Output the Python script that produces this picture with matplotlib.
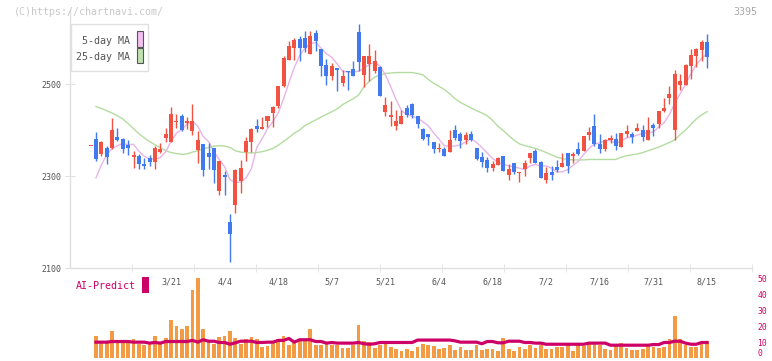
import numpy as np
import matplotlib
matplotlib.use('Agg')
import matplotlib.pyplot as plt
from matplotlib.patches import Rectangle

plt.rcParams['font.family'] = ['DejaVu Sans Mono']

#Daily prices, index 0 = first candle
open_ = [2365, 2380, 2348, 2361, 2361, 2385, 2380, 2367, 2342, 2343,
         2326, 2339, 2330, 2352, 2383, 2374, 2417, 2430, 2415, 2398,
         2357, 2370, 2350, 2361, 2268, 2302, 2200, 2237, 2289, 2352,
         2374, 2409, 2402, 2420, 2437, 2452, 2496, 2552, 2578, 2598,
         2600, 2565, 2611, 2576, 2541, 2517, 2535, 2502, 2528, 2533,
         2613, 2520, 2543, 2528, 2537, 2439, 2428, 2409, 2413, 2448,
         2457, 2430, 2402, 2391, 2374, 2359, 2359, 2352, 2400, 2391,
         2378, 2391, 2361, 2341, 2335, 2317, 2324, 2343, 2302, 2328,
         2307, 2315, 2339, 2354, 2330, 2291, 2309, 2320, 2320, 2350,
         2343, 2359, 2354, 2389, 2409, 2370, 2359, 2378, 2380, 2363,
         2391, 2391, 2398, 2400, 2378, 2411, 2413, 2441, 2470, 2400,
         2498, 2498, 2539, 2561, 2574, 2591]
high = [2365, 2396, 2376, 2365, 2426, 2404, 2383, 2378, 2354, 2348,
        2339, 2346, 2365, 2372, 2404, 2450, 2435, 2435, 2428, 2457,
        2398, 2370, 2372, 2361, 2333, 2311, 2217, 2315, 2335, 2385,
        2404, 2424, 2428, 2430, 2452, 2496, 2561, 2593, 2600, 2604,
        2615, 2615, 2617, 2576, 2554, 2546, 2535, 2530, 2528, 2550,
        2630, 2561, 2587, 2574, 2539, 2472, 2463, 2443, 2443, 2454,
        2459, 2430, 2404, 2391, 2374, 2372, 2363, 2400, 2411, 2396,
        2396, 2398, 2361, 2352, 2341, 2333, 2341, 2343, 2326, 2328,
        2309, 2335, 2350, 2359, 2333, 2320, 2322, 2335, 2350, 2350,
        2352, 2374, 2387, 2407, 2435, 2391, 2380, 2389, 2393, 2393,
        2411, 2396, 2415, 2411, 2428, 2415, 2441, 2470, 2496, 2530,
        2522, 2543, 2576, 2578, 2596, 2609]
low = [2365, 2333, 2344, 2327, 2359, 2376, 2350, 2346, 2317, 2315,
       2315, 2322, 2315, 2350, 2374, 2374, 2404, 2398, 2402, 2389,
       2328, 2300, 2315, 2285, 2259, 2259, 2113, 2220, 2263, 2333,
       2352, 2396, 2402, 2407, 2407, 2448, 2494, 2552, 2552, 2550,
       2570, 2565, 2572, 2517, 2498, 2509, 2485, 2496, 2487, 2517,
       2528, 2494, 2507, 2524, 2474, 2430, 2409, 2400, 2413, 2428,
       2426, 2404, 2378, 2367, 2350, 2352, 2343, 2352, 2378, 2361,
       2370, 2376, 2335, 2320, 2309, 2311, 2324, 2311, 2291, 2304,
       2287, 2300, 2328, 2328, 2296, 2285, 2291, 2309, 2320, 2307,
       2328, 2346, 2354, 2378, 2365, 2350, 2354, 2372, 2357, 2363,
       2385, 2372, 2398, 2376, 2378, 2387, 2404, 2439, 2457, 2378,
       2487, 2498, 2511, 2537, 2550, 2535]
close = [2365, 2338, 2374, 2342, 2400, 2378, 2359, 2362, 2346, 2326,
         2322, 2330, 2361, 2359, 2391, 2435, 2420, 2400, 2420, 2420,
         2378, 2313, 2342, 2313, 2333, 2298, 2174, 2313, 2317, 2376,
         2402, 2402, 2407, 2430, 2450, 2496, 2557, 2583, 2596, 2578,
         2578, 2604, 2593, 2539, 2517, 2539, 2530, 2517, 2526, 2517,
         2548, 2561, 2561, 2550, 2474, 2454, 2433, 2420, 2430, 2433,
         2433, 2413, 2380, 2385, 2359, 2361, 2343, 2378, 2383, 2376,
         2389, 2378, 2337, 2330, 2317, 2326, 2339, 2311, 2315, 2309,
         2309, 2328, 2350, 2328, 2296, 2307, 2302, 2313, 2328, 2322,
         2348, 2348, 2387, 2396, 2370, 2359, 2378, 2383, 2365, 2393,
         2398, 2385, 2404, 2385, 2400, 2404, 2441, 2448, 2478, 2522,
         2507, 2541, 2563, 2576, 2591, 2559]

#Moving averages as drawn on the chart
ma5 = [np.nan, 2296, 2324, 2346, 2360, 2366, 2371, 2368, 2369, 2354,
       2343, 2337, 2337, 2340, 2353, 2375, 2393, 2401, 2413, 2419,
       2408, 2386, 2375, 2353, 2336, 2320, 2292, 2286, 2287, 2296,
       2316, 2362, 2381, 2403, 2418, 2437, 2468, 2503, 2536, 2562,
       2578, 2588, 2590, 2578, 2566, 2558, 2544, 2528, 2526, 2526,
       2528, 2534, 2543, 2547, 2539, 2520, 2494, 2466, 2442, 2434,
       2430, 2426, 2418, 2409, 2394, 2380, 2366, 2365, 2365, 2368,
       2374, 2381, 2373, 2362, 2350, 2338, 2330, 2325, 2322, 2320,
       2317, 2314, 2322, 2325, 2322, 2322, 2317, 2309, 2309, 2314,
       2323, 2332, 2347, 2360, 2370, 2372, 2378, 2377, 2371, 2376,
       2383, 2385, 2389, 2393, 2394, 2396, 2407, 2416, 2434, 2459,
       2479, 2499, 2522, 2542, 2556, 2566]
ma25 = [np.nan, 2451, 2447, 2442, 2437, 2431, 2424, 2414, 2403, 2392,
        2383, 2375, 2368, 2362, 2355, 2351, 2349, 2347, 2348, 2352,
        2355, 2359, 2362, 2365, 2366, 2365, 2362, 2355, 2352, 2351,
        2350, 2351, 2353, 2356, 2360, 2367, 2375, 2384, 2393, 2400,
        2410, 2416, 2422, 2428, 2434, 2440, 2446, 2455, 2462, 2468,
        2476, 2494, 2506, 2515, 2520, 2523, 2524, 2525, 2525, 2525,
        2525, 2523, 2520, 2510, 2502, 2495, 2488, 2479, 2468, 2460,
        2454, 2448, 2442, 2437, 2431, 2421, 2408, 2399, 2388, 2378,
        2370, 2366, 2363, 2360, 2356, 2351, 2346, 2341, 2338, 2336,
        2335, 2335, 2335, 2336, 2336, 2336, 2336, 2336, 2336, 2341,
        2344, 2346, 2348, 2351, 2355, 2359, 2363, 2368, 2373, 2379,
        2390, 2400, 2412, 2424, 2433, 2440]

#Volume bars and AI-Predict line (lower panel)
volume = [0, 13.7, 9.7, 9.7, 16.9, 10.8, 11.2, 10.8, 11.8, 8.6,
          8.2, 9.1, 13.7, 8.6, 12.4, 23.8, 20.0, 18.1, 20.0, 42.2,
          50.0, 18.1, 10.8, 8.6, 13.3, 13.7, 16.9, 12.4, 8.6, 11.6,
          13.1, 11.6, 7.0, 7.6, 9.1, 11.8, 13.7, 8.2, 10.5, 11.4,
          11.4, 18.1, 8.2, 8.2, 8.6, 8.2, 8.2, 6.3, 6.3, 8.2,
          20.7, 10.5, 9.7, 6.3, 8.2, 9.1, 7.0, 5.5, 4.4, 5.5,
          4.4, 7.0, 8.6, 8.2, 7.4, 5.5, 6.3, 8.2, 4.9, 7.0,
          4.9, 4.9, 8.2, 4.9, 5.5, 5.5, 4.2, 12.7, 5.5, 4.2,
          7.0, 5.5, 8.2, 6.3, 8.2, 5.5, 5.5, 7.0, 7.0, 8.2,
          4.2, 9.1, 7.6, 8.6, 9.7, 8.2, 5.5, 4.9, 8.2, 9.1,
          6.3, 4.9, 4.9, 5.5, 8.2, 7.0, 6.3, 7.0, 11.8, 26.0,
          11.8, 8.2, 7.0, 7.0, 9.1, 10.5]
predict = [np.nan, 9.9, 9.9, 9.9, 10.3, 10.3, 10.3, 10.3, 9.9, 9.9,
           9.9, 9.3, 9.7, 9.3, 10.3, 10.3, 10.3, 10.3, 10.3, 11.0,
           9.9, 11.4, 10.5, 10.5, 9.7, 9.7, 8.6, 9.5, 10.5, 10.5,
           10.5, 9.7, 9.7, 9.9, 9.9, 11.0, 11.0, 12.2, 9.9, 11.4,
           11.4, 11.4, 10.3, 10.3, 9.3, 9.7, 9.3, 9.3, 9.3, 9.3,
           9.7, 8.9, 8.6, 8.9, 9.7, 9.7, 9.7, 9.7, 9.7, 9.7,
           9.7, 11.2, 11.2, 11.2, 11.2, 11.2, 11.2, 11.2, 10.7, 9.9,
           9.9, 9.9, 9.9, 8.9, 10.3, 10.3, 9.5, 9.5, 10.5, 10.5,
           10.5, 9.7, 9.7, 9.3, 9.3, 8.6, 8.6, 8.6, 8.6, 8.6,
           8.6, 8.6, 8.6, 9.3, 9.3, 9.3, 9.3, 8.0, 8.0, 8.0,
           8.0, 8.0, 8.0, 8.0, 8.0, 8.4, 8.4, 9.7, 9.7, 10.5,
           10.5, 9.3, 8.6, 8.6, 9.7, 9.7]

date_labels = ['3/21', '4/4', '4/18', '5/7', '5/21', '6/4',
               '6/18', '7/2', '7/16', '7/31', '8/15']
date_index = [15, 25, 35, 45, 55, 65, 75, 85, 95, 105, 115]

W, H = 772, 361
RED = '#f25241'
BLUE = '#4179ee'
GRID = '#e0e0e0'
TXT = '#555555'
MAG = '#cc0066'

x = np.arange(len(close))
o = np.array(open_)
c = np.array(close)

fig = plt.figure(figsize=(W / 100, H / 100), dpi=100)

#----price panel
ax = fig.add_axes([70 / W, 93 / H, 682 / W, 258 / H])
x0, x1 = -3.85, 123.4
ax.set_xlim(x0, x1)
ax.set_ylim(2100, 2661)

ax.plot(x, ma25, color='#b4dca0', lw=1, zorder=1)
ax.plot(x, ma5, color='#e8b4e8', lw=1, zorder=1)

colors = [RED if cc >= oo else BLUE for oo, cc in zip(o, c)]
ax.vlines(x, low, high, colors=colors, lw=1, zorder=2)
ax.bar(x, np.maximum(np.abs(c - o), 2.2), bottom=np.minimum(o, c),
       width=0.75, color=colors, lw=0, zorder=3)

for s in ['top', 'right']:
    ax.spines[s].set_visible(False)
for s in ['left', 'bottom']:
    ax.spines[s].set_color(GRID)
    ax.spines[s].set_linewidth(1)

ax.set_yticks([2100, 2300, 2500])
ax.tick_params(axis='y', direction='inout', length=6.5, color=GRID,
               labelsize=6, labelcolor=TXT, pad=3)
ax.set_xticks([])
ax.set_xticks([x0 + k * (x1 - x0) / 11 for k in range(1, 12)], minor=True)
ax.tick_params(axis='x', which='minor', direction='inout', length=6,
               color=GRID)

for i, lab in zip(date_index, date_labels):
    ax.text(i, -0.0554, lab, transform=ax.get_xaxis_transform(),
            ha='center', va='center', fontsize=6, color=TXT, clip_on=False)

#----volume panel
ax2 = fig.add_axes([70 / W, 3 / H, 682 / W, 80 / H])
ax2.patch.set_visible(False)
ax2.set_xlim(x0, x1)
ax2.set_ylim(0, 50)
ax2.bar(x, volume, width=0.7, color='#f39a45', lw=0)
ax2.plot(x, predict, color=MAG, lw=2.3)
for s in ax2.spines.values():
    s.set_visible(False)
ax2.set_xticks([])
ax2.yaxis.tick_right()
ax2.set_yticks(range(0, 51, 10))
ax2.tick_params(axis='y', length=0, pad=4, labelsize=5.8, labelcolor=MAG)
#keep the bottom "0" inside the picture
ax2.get_yticklabels()[0].set_verticalalignment('bottom')


#----legend and texts (pixel positions)
def box(x_px, y_px, w_px, h_px, **kw):
    r = Rectangle((x_px / W, 1 - (y_px + h_px) / H), w_px / W, h_px / H,
                  transform=fig.transFigure, **kw)
    fig.add_artist(r)


box(70.7, 24, 77.6, 47.3, facecolor='white', edgecolor=GRID, lw=1, zorder=5)
box(136.5, 31.3, 6, 15.4, facecolor='#f0c0f0', edgecolor='#555555',
    lw=0.8, zorder=6)
box(136.5, 48.3, 6, 15.0, facecolor='#c0e0b0', edgecolor='#555555',
    lw=0.8, zorder=6)
fig.text(130 / W, 1 - 40.5 / H, '5-day MA', ha='right', va='center',
         fontsize=7.2, color=TXT, zorder=7)
fig.text(130 / W, 1 - 57 / H, '25-day MA', ha='right', va='center',
         fontsize=7.2, color=TXT, zorder=7)

fig.text(14 / W, 1 - 12 / H, '(C)https://chartnavi.com/', ha='left',
         va='center', fontsize=7.2, color='#c8c8c8')
fig.text(757 / W, 1 - 12 / H, '3395', ha='right', va='center',
         fontsize=7.2, color='#aaaaaa')

fig.text(76 / W, 1 - 286 / H, 'AI-Predict', ha='left', va='center',
         fontsize=7.2, color=MAG)
box(142, 277.3, 6.7, 15.4, facecolor=MAG, edgecolor='none')

fig.savefig('out.png', dpi=100)
